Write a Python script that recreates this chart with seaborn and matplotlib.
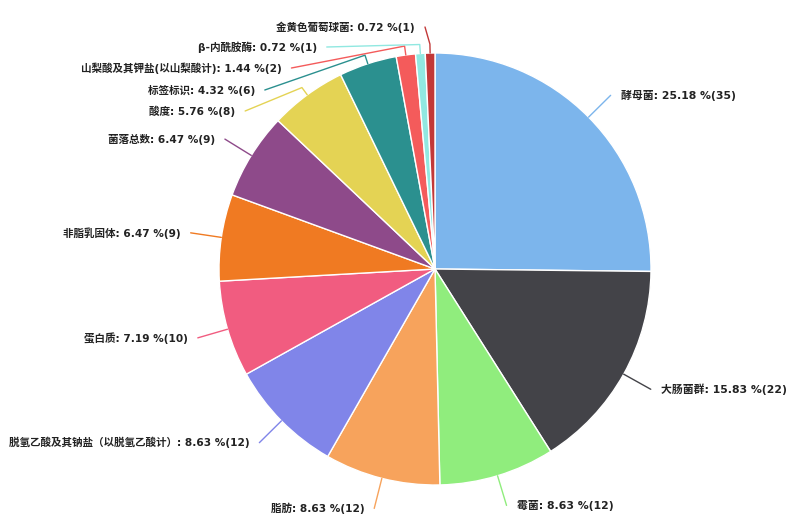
import numpy as np
import matplotlib
matplotlib.use("Agg")
import matplotlib.pyplot as plt
import seaborn as sns

# ---- data ----
categories = ["酵母菌", "大肠菌群", "霉菌", "脂肪", "脱氢乙酸及其钠盐（以脱氢乙酸计）",
              "蛋白质", "非脂乳固体", "菌落总数", "酸度", "标签标识",
              "山梨酸及其钾盐(以山梨酸计)", "β-内酰胺酶", "金黄色葡萄球菌"]
counts = [35, 22, 12, 12, 12, 10, 9, 9, 8, 6, 2, 1, 1]
colors = ["#7cb5ec", "#434348", "#90ed7d", "#f7a35c", "#8085e9", "#f15c80",
          "#f07a22", "#8e4a8a", "#e4d354", "#2b908f", "#f45b5b", "#91e8e1", "#c23838"]

sns.set_theme(style="white")
plt.rcParams['font.family'] = ['DejaVu Sans', 'Noto Sans CJK SC']

W, H = 800, 532
fig = plt.figure(figsize=(W / 100, H / 100), dpi=100)
ax = fig.add_axes([0, 0, 1, 1])

cx, cy_px, R = 435, 269, 216
cy = H - cy_px
pal = sns.color_palette(colors)
wedges, _ = ax.pie(counts, colors=pal, startangle=90, counterclock=False,
                   center=(cx, cy), radius=R,
                   wedgeprops=dict(edgecolor="white", linewidth=1))
ax.set_xlim(0, W)
ax.set_ylim(0, H)
ax.set_aspect("equal")
ax.axis("off")

total = sum(counts)
# layout: label anchor overrides (pixel y from top) for the crowded top-left labels
y_override = {8: 111, 9: 90, 10: 68, 11: 47, 12: 27}
x_override = {12: 425}
D = R + 31

cum = 0
for i, (name, v) in enumerate(zip(categories, counts)):
    frac_mid = (cum + v / 2) / total
    cum += v
    theta = 2 * np.pi * frac_mid  # clockwise from top
    s, c = np.sin(theta), np.cos(theta)
    ex, ey = cx + R * s, cy + R * c
    stub = 9
    sx, sy = cx + (R + stub) * s, cy + (R + stub) * c
    if i in y_override:
        ly = H - y_override[i]
        dy = ly - cy
        lx = cx - np.sqrt(max(D ** 2 - dy ** 2, 0))
        if i in x_override:
            lx = x_override[i]
        left = True
    else:
        lx, ly = cx + D * s, cy + D * c
        left = s < 0
    ax.plot([ex, sx, lx], [ey, sy, ly], color=pal[i], lw=1, solid_capstyle="round")
    label = f"{name}: {v / total * 100:.2f} %({v})"
    if left:
        ax.text(lx - 10, ly, label, ha="right", va="center", fontsize=7.6,
                fontweight="bold", color="#222222")
    else:
        ax.text(lx + 10, ly, label, ha="left", va="center", fontsize=7.8,
                fontweight="bold", color="#222222")

fig.savefig("out.png", dpi=100)
